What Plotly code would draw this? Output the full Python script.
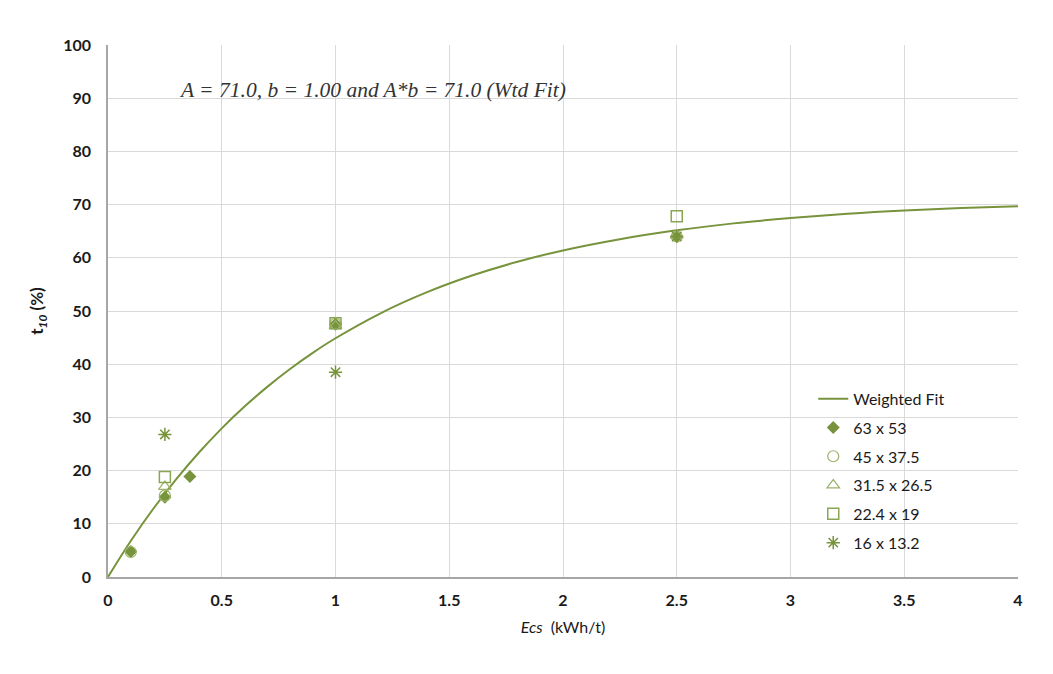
import plotly.graph_objects as go

GREEN = "#77933C"

# Weighted fit curve values (A = 71.0, b = 1.00) read at sampled Ecs values
fit_x = [0, 0.1, 0.2, 0.3, 0.4, 0.5, 0.6, 0.7, 0.8, 0.9, 1.0, 1.2, 1.4, 1.6, 1.8,
         2.0, 2.25, 2.5, 2.75, 3.0, 3.25, 3.5, 3.75, 4.0]
fit_y = [0, 6.76, 12.87, 18.39, 23.40, 27.94, 32.04, 35.74, 39.10, 42.14, 44.88,
         49.62, 53.49, 56.66, 59.26, 61.39, 63.50, 65.17, 66.47, 67.47, 68.29,
         68.91, 69.36, 69.70]

s63_x = [0.1, 0.25, 0.36, 1.0, 2.5]
s63_y = [4.8, 15.0, 18.9, 47.5, 64.0]

s45_x = [0.1, 0.25, 1.0, 2.5]
s45_y = [4.7, 15.3, 47.6, 64.0]

s31_x = [0.25, 1.0, 2.5]
s31_y = [17.0, 47.2, 64.2]

s22_x = [0.25, 1.0, 2.5]
s22_y = [18.8, 47.7, 67.8]

s16_x = [0.25, 1.0, 2.5]
s16_y = [26.8, 38.5, 64.0]

fig = go.Figure()
fig.add_trace(go.Scatter(x=fit_x, y=fit_y, mode="lines", name="Weighted Fit",
                         line=dict(color=GREEN, width=2, shape="spline"),
                         legendgroup="a"))
fig.add_trace(go.Scatter(x=s63_x, y=s63_y, mode="markers", name="63 x 53",
                         marker=dict(symbol="diamond", size=10, color=GREEN),
                         legendgroup="b"))
fig.add_trace(go.Scatter(x=s45_x, y=s45_y, mode="markers", name="45 x 37.5",
                         marker=dict(symbol="circle-open", size=11, color="#9BB26A",
                                     line=dict(width=1.2)),
                         legendgroup="c"))
fig.add_trace(go.Scatter(x=s31_x, y=s31_y, mode="markers", name="31.5 x 26.5",
                         marker=dict(symbol="triangle-up-open", size=11, color="#9BB26A",
                                     line=dict(width=1.2)),
                         legendgroup="d"))
fig.add_trace(go.Scatter(x=s22_x, y=s22_y, mode="markers", name="22.4 x 19",
                         marker=dict(symbol="square-open", size=11, color="#8AA655",
                                     line=dict(width=1.5)),
                         legendgroup="e"))
fig.add_trace(go.Scatter(x=s16_x, y=s16_y, mode="markers", name="16 x 13.2",
                         marker=dict(symbol="asterisk-open", size=11, color=GREEN,
                                     line=dict(width=1.5, color=GREEN)),
                         legendgroup="f"))

FAM = "Lato, Open Sans, sans-serif"
tick_font = dict(family=FAM, size=16, color="#1a1a1a", weight="bold")

fig.update_layout(
    width=1053, height=674,
    margin=dict(l=108, r=35, t=45, b=97),
    plot_bgcolor="white", paper_bgcolor="white",
    showlegend=True,
    legend=dict(x=0.775, y=0.367, xanchor="left", yanchor="top",
                bgcolor="rgba(0,0,0,0)", font=dict(family=FAM, size=16, color="#1a1a1a"),
                tracegroupgap=5, traceorder="grouped"),
    xaxis=dict(range=[0, 4], dtick=0.5, showgrid=True, gridcolor="#D9D9D9",
               showline=True, linecolor="#A6A6A6", linewidth=1.5, zeroline=False,
               ticks="", tickfont=tick_font, ticklabelstandoff=8,
               title=dict(text="<i>Ecs</i>  (kWh/t)", font=dict(family=FAM, size=16, color="#1a1a1a"),
                          standoff=14)),
    yaxis=dict(range=[0, 100], dtick=10, showgrid=True, gridcolor="#D9D9D9",
               showline=True, linecolor="#A6A6A6", linewidth=1.5, zeroline=False,
               ticks="", tickfont=tick_font, ticklabelstandoff=12,
               title=dict(text="<b>t<sub><i>10</i></sub> (%)</b>",
                          font=dict(family=FAM, size=17, color="#1a1a1a"),
                          standoff=15)),
    annotations=[dict(x=0.076, y=0.915, xref="paper", yref="paper", xanchor="left", yanchor="middle",
                      showarrow=False,
                      text="<i>A = 71.0, b = 1.00 and A*b = 71.0 (Wtd Fit)</i>",
                      font=dict(family="Liberation Serif, Times New Roman, serif", size=21.5,
                                color="#333333"))],
)

fig.write_html("out.html")
